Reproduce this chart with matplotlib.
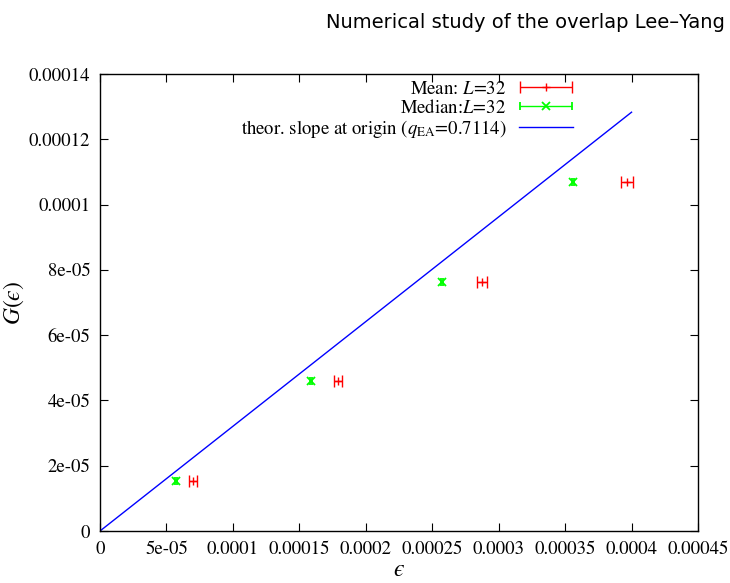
import matplotlib
matplotlib.use("Agg")
import matplotlib.pyplot as plt
from matplotlib.container import ErrorbarContainer
from matplotlib.legend_handler import HandlerErrorbar

plt.rcParams['font.family'] = ['STIXGeneral', 'DejaVu Serif']
plt.rcParams['mathtext.fontset'] = 'stix'

# Data
mean_x = [7.0e-5, 1.79e-4, 2.875e-4, 3.966e-4]
mean_xerr = [3.0e-6, 3.0e-6, 3.8e-6, 4.5e-6]
mean_y = [1.53e-5, 4.59e-5, 7.64e-5, 1.069e-4]

median_x = [5.72e-5, 1.588e-4, 2.574e-4, 3.559e-4]
median_xerr = [1.0e-6, 1.0e-6, 1.0e-6, 1.0e-6]
median_y = [1.53e-5, 4.59e-5, 7.64e-5, 1.069e-4]

line_x = [0.0, 4.0e-4]
line_y = [0.0, 1.283e-4]

xticks = [0, 5e-5, 1e-4, 1.5e-4, 2e-4, 2.5e-4, 3e-4, 3.5e-4, 4e-4, 4.5e-4]
xticklabels = ["0", "5e-05", "0.0001", "0.00015", "0.0002", "0.00025",
               "0.0003", "0.00035", "0.0004", "0.00045"]
yticks = [0, 2e-5, 4e-5, 6e-5, 8e-5, 1e-4, 1.2e-4, 1.4e-4]
yticklabels = ["0", "2e-05", "4e-05", "6e-05", "8e-05", "0.0001",
               "0.00012", "0.00014"]

fig = plt.figure(figsize=(7.3, 5.83), dpi=100)
ax = fig.add_axes([100/730, 52/583, 598/730, 457/583])

h_mean = ax.errorbar(mean_x, mean_y, xerr=mean_xerr, fmt='+', color='#ff0000',
                     ms=6, mew=1.0, elinewidth=1.0, capsize=4.5, capthick=1.0,
                     label=r'Mean: $L$=32')
h_med = ax.errorbar(median_x, median_y, xerr=median_xerr, fmt='x', color='#00ff00',
                    ms=5.5, mew=1.3, elinewidth=1.0, capsize=3.0, capthick=1.0,
                    label=r'Median:$L$=32')
h_line, = ax.plot(line_x, line_y, color='#0000ff', lw=1.0,
                  label=r'theor. slope at origin ($q_{\rm EA}$=0.7114)')

ax.set_xlim(0, 4.5e-4)
ax.set_ylim(0, 1.4e-4)
ax.set_xticks(xticks)
ax.set_xticklabels(xticklabels)
ax.set_yticks(yticks)
ax.set_yticklabels(yticklabels)
ax.tick_params(direction='in', length=6, width=0.8, top=True, right=True,
               labelsize=13.5, pad=7)
for s in ax.spines.values():
    s.set_linewidth(1.0)

ax.set_xlabel('$\u03f5$', fontsize=17, labelpad=1)
ax.set_ylabel('$G(\u03f5)$', fontsize=17, labelpad=2)

leg = ax.legend(handles=[h_mean, h_med, h_line],
                loc='upper right', bbox_to_anchor=(0.791, 0.985),
                frameon=False, markerfirst=False, fontsize=13.5,
                handlelength=2.9, handletextpad=0.65, labelspacing=0.05,
                borderpad=0, borderaxespad=0,
                handler_map={ErrorbarContainer: HandlerErrorbar(xerr_size=1.4)})

fig.text(725/730, 1 - 22/583, 'Numerical study of the overlap Lee–Yang',
         ha='right', va='center', fontsize=14, family='DejaVu Sans')

fig.savefig('out.png', dpi=100)
